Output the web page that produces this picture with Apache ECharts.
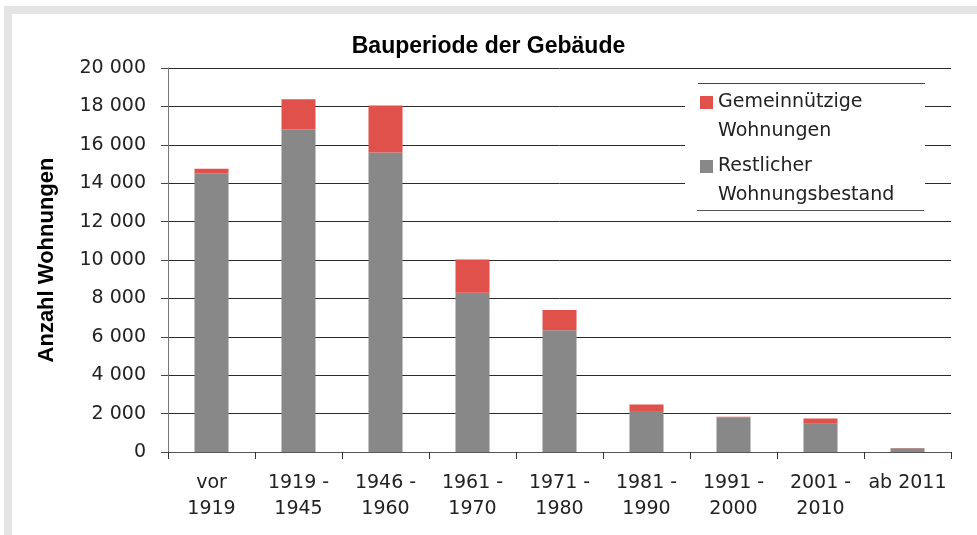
<!DOCTYPE html>
<html>
<head>
<meta charset="utf-8">
<script src="https://cdn.jsdelivr.net/npm/echarts@6/dist/echarts.min.js"></script>
<style>
  html, body { margin: 0; padding: 0; background: #ffffff; width: 977px; height: 535px; overflow: hidden; }
  #frame { position: absolute; left: 4px; top: 6px; width: 973px; height: 529px; background: #e4e4e4; }
  #panel { position: absolute; left: 12px; top: 14px; width: 965px; height: 521px; background: #ffffff; }
  #chart { position: absolute; left: 0; top: 0; width: 977px; height: 535px; }
</style>
</head>
<body>
<div id="frame"></div>
<div id="panel"></div>
<div id="chart"></div>
<script>
const categories = ['vor\n1919', '1919 -\n1945', '1946 -\n1960', '1961 -\n1970', '1971 -\n1980', '1981 -\n1990', '1991 -\n2000', '2001 -\n2010', 'ab 2011'];
const restlicher = [14500, 16800, 15600, 8300, 6340, 2130, 1800, 1470, 200];
const gemeinnuetzig = [250, 1570, 2450, 1730, 1060, 350, 30, 280, 10];
const seriesNames = ['Gemeinnützige Wohnungen', 'Restlicher Wohnungsbestand'];
const yMin = 0, yMax = 20000, yStep = 2000;

const FONT = 'DejaVu Sans';
const ICON = 'path://M0,0H13V13H0Z M0,41.9H0.05V42H0Z';
const chart = echarts.init(document.getElementById('chart'), null, { renderer: 'canvas' });

function fmt(v) { return String(v).replace(/\B(?=(\d{3})+(?!\d))/g, ' '); }

chart.setOption({
  backgroundColor: 'transparent',
  animation: false,
  title: {
    text: 'Bauperiode der Gebäude',
    left: 'center',
    top: 30,
    textStyle: { fontFamily: 'Liberation Sans', fontWeight: 'bold', fontSize: 23, color: '#000' }
  },
  grid: { left: 168, right: 26, top: 68, bottom: 83, containLabel: false },
  legend: {
    data: [
      { name: seriesNames[0], icon: ICON },
      { name: seriesNames[1], icon: ICON }
    ],
    orient: 'vertical',
    left: 700,
    top: 88,
    padding: 0,
    itemGap: 6,
    itemWidth: 13,
    itemHeight: 42,
    z: 10,
    formatter: n => n.replace(' ', '\n'),
    textStyle: { fontFamily: FONT, fontSize: 19, lineHeight: 29, color: '#222' }
  },
  graphic: [
    { type: 'rect', z: 5, shape: { x: 685, y: 84, width: 240, height: 126 }, style: { fill: '#ffffff' } },
    { type: 'line', z: 6, shape: { x1: 698, y1: 83.5, x2: 925, y2: 83.5 }, style: { stroke: '#444', lineWidth: 1 } },
    { type: 'line', z: 6, shape: { x1: 697, y1: 210.5, x2: 924, y2: 210.5 }, style: { stroke: '#555', lineWidth: 1 } }
  ],
  xAxis: {
    type: 'category',
    data: categories,
    axisLine: { lineStyle: { color: '#555', width: 1 } },
    axisTick: { show: true, length: 7, alignWithLabel: false, lineStyle: { color: '#333' } },
    axisLabel: { fontFamily: FONT, fontSize: 19, lineHeight: 26, color: '#222', margin: 18, interval: 0 }
  },
  yAxis: {
    type: 'value',
    min: yMin, max: yMax, interval: yStep,
    name: 'Anzahl Wohnungen',
    nameLocation: 'middle',
    nameGap: 110,
    nameRotate: 90,
    nameTextStyle: { fontFamily: 'Liberation Sans', fontWeight: 'bold', fontSize: 22, color: '#000' },
    axisLine: { show: true, lineStyle: { color: '#777', width: 1 } },
    axisTick: { show: true, length: 7, lineStyle: { color: '#444' } },
    axisLabel: { fontFamily: FONT, fontSize: 19, color: '#222', margin: 22, formatter: fmt },
    splitLine: { show: true, lineStyle: { color: '#2a2a2a', width: 1 } }
  },
  series: [
    {
      name: seriesNames[1], type: 'bar', stack: 'a', data: restlicher, barWidth: 34,
      itemStyle: { color: '#888888' }
    },
    {
      name: seriesNames[0], type: 'bar', stack: 'a', data: gemeinnuetzig, barWidth: 34,
      itemStyle: { color: '#e1514b' }
    }
  ]
});
</script>
</body>
</html>
